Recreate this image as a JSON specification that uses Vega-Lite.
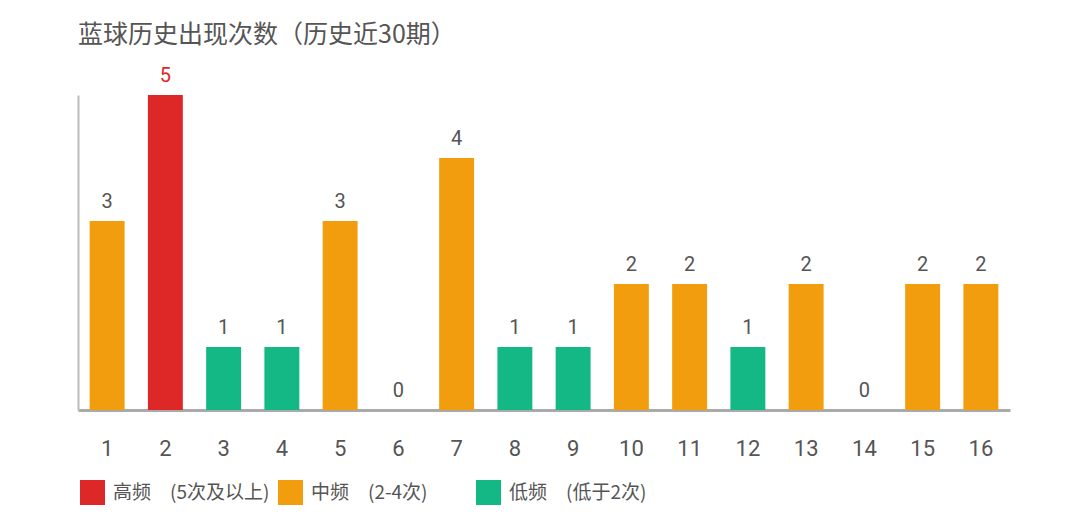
{
  "$schema": "https://vega.github.io/schema/vega-lite/v6.json",
  "autosize": "none",
  "width": 932,
  "height": 315,
  "padding": {"left": 78, "top": 95, "right": 75, "bottom": 110},
  "background": "#ffffff",
  "title": {
    "text": "蓝球历史出现次数（历史近30期）",
    "anchor": "start",
    "frame": "group",
    "font": "Noto Sans CJK SC",
    "fontSize": 25,
    "fontWeight": "normal",
    "color": "#555555",
    "offset": 18
  },
  "config": {"view": {"stroke": null}},
  "data": {
    "values": [
      {"num": "1", "count": 3, "level": "中频"},
      {"num": "2", "count": 5, "level": "高频"},
      {"num": "3", "count": 1, "level": "低频"},
      {"num": "4", "count": 1, "level": "低频"},
      {"num": "5", "count": 3, "level": "中频"},
      {"num": "6", "count": 0, "level": "低频"},
      {"num": "7", "count": 4, "level": "中频"},
      {"num": "8", "count": 1, "level": "低频"},
      {"num": "9", "count": 1, "level": "低频"},
      {"num": "10", "count": 2, "level": "中频"},
      {"num": "11", "count": 2, "level": "中频"},
      {"num": "12", "count": 1, "level": "低频"},
      {"num": "13", "count": 2, "level": "中频"},
      {"num": "14", "count": 0, "level": "低频"},
      {"num": "15", "count": 2, "level": "中频"},
      {"num": "16", "count": 2, "level": "中频"}
    ]
  },
  "encoding": {
    "x": {
      "field": "num",
      "type": "ordinal",
      "sort": null,
      "scale": {"paddingInner": 0.4, "paddingOuter": 0.2},
      "axis": {
        "title": null,
        "labelAngle": 0,
        "ticks": false,
        "labelPadding": 28,
        "labelFont": "Roboto",
        "labelFontSize": 22,
        "labelColor": "#555555",
        "domainColor": "#aaaaaa",
        "domainWidth": 3
      }
    },
    "y": {
      "field": "count",
      "type": "quantitative",
      "scale": {"domain": [0, 5], "nice": false},
      "axis": {
        "title": null,
        "labels": false,
        "ticks": false,
        "grid": false,
        "domainColor": "#bbbbbb",
        "domainWidth": 2
      }
    }
  },
  "layer": [
    {
      "mark": {"type": "bar"},
      "encoding": {
        "color": {
          "field": "level",
          "type": "nominal",
          "scale": {"domain": ["高频", "中频", "低频"], "range": ["#de2727", "#f29d0d", "#14b884"]},
          "legend": {
            "orient": "none",
            "legendX": 2,
            "legendY": 385,
            "direction": "horizontal",
            "title": null,
            "symbolType": "square",
            "symbolSize": 625,
            "symbolStrokeWidth": 0,
            "symbolOpacity": 1,
            "labelFont": "Noto Sans CJK SC",
            "labelFontSize": 19,
            "labelColor": "#555555",
            "labelOffset": 8,
            "labelLimit": 400,
            "gridAlign": "all",
            "columnPadding": 8,
            "labelExpr": "datum.label == '高频' ? '高频\u3000(5次及以上)' : datum.label == '中频' ? '中频\u3000(2-4次)' : '低频\u3000(低于2次)'"
          }
        }
      }
    },
    {
      "mark": {"type": "text", "baseline": "alphabetic", "dy": -13, "font": "Roboto", "fontSize": 20},
      "encoding": {
        "text": {"field": "count", "type": "quantitative"},
        "color": {"condition": {"test": "datum.count >= 5", "value": "#de2727"}, "value": "#555555"}
      }
    }
  ]
}
